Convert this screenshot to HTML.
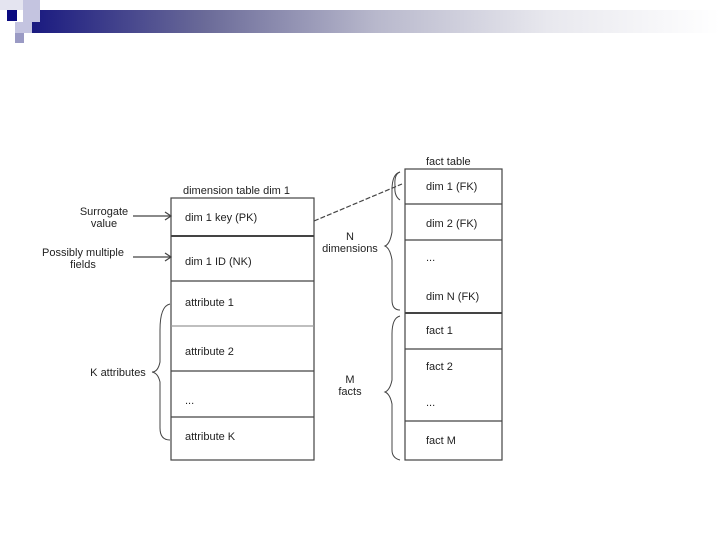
<!DOCTYPE html>
<html><head><style>
body{margin:0;width:720px;height:540px;background:#fff;position:relative;overflow:hidden;font-family:"Liberation Sans",sans-serif}
.a{position:absolute}
</style></head><body>
<div class="a" style="left:32px;top:10px;width:688px;height:23px;background:linear-gradient(to right,#1a1a80,#6a6a98 25%,#b8b8cc 50%,#e8e8ee 75%,#fff)"></div>
<div class="a" style="left:0;top:0;width:23px;height:10px;background:#e4e4f0"></div>
<div class="a" style="left:23px;top:0;width:17px;height:22px;background:#c4c4e0"></div>
<div class="a" style="left:7px;top:10px;width:10px;height:11px;background:#0a0a80"></div>
<div class="a" style="left:15px;top:22px;width:17px;height:11px;background:#c4c4e0"></div>
<div class="a" style="left:15px;top:33px;width:9px;height:10px;background:#9a9ac4"></div>
<svg class="a" style="left:0;top:0" width="720" height="540" font-family="Liberation Sans, sans-serif" font-size="11" fill="#222">
<g stroke="#444" fill="none" stroke-width="1.2">
<rect x="171" y="198" width="143" height="262"/>
<line x1="171" y1="236" x2="314" y2="236" stroke-width="2"/>
<line x1="171" y1="281" x2="314" y2="281"/>
<line x1="171" y1="326" x2="314" y2="326" stroke="#999"/>
<line x1="171" y1="371" x2="314" y2="371"/>
<line x1="171" y1="417" x2="314" y2="417"/>
<rect x="405" y="169" width="97" height="291"/>
<line x1="405" y1="204" x2="502" y2="204"/>
<line x1="405" y1="240" x2="502" y2="240"/>
<line x1="405" y1="313" x2="502" y2="313" stroke-width="2"/>
<line x1="405" y1="349" x2="502" y2="349"/>
<line x1="405" y1="421" x2="502" y2="421"/>
<line x1="133" y1="216" x2="170" y2="216"/><path d="M165 212 L171 216 L165 220"/>
<line x1="133" y1="257" x2="170" y2="257"/><path d="M165 253 L171 257 L165 261"/>
<line x1="314" y1="221" x2="402" y2="184" stroke-dasharray="5,2"/>
<path d="M400 172 Q394 174 395 186 Q394 196 400 200" stroke-width="1"/>
<path d="M170 304 Q160 306 160 330 L160 362 Q158 372 152 372 Q158 373 160 382 L160 428 Q160 440 170 440" stroke-width="1"/>
<path d="M400 172 Q392 174 392 190 L392 232 Q390 244 385 246 Q390 248 392 260 L392 300 Q392 310 400 310" stroke-width="1"/>
<path d="M400 316 Q392 318 392 334 L392 380 Q390 390 385 392 Q390 394 392 404 L392 450 Q392 458 400 460" stroke-width="1"/>
</g>
<text x="183" y="194">dimension table dim 1</text>
<text x="426" y="165">fact table</text>
<text x="104" y="215" text-anchor="middle">Surrogate</text>
<text x="104" y="227" text-anchor="middle">value</text>
<text x="83" y="256" text-anchor="middle">Possibly multiple</text>
<text x="83" y="268" text-anchor="middle">fields</text>
<text x="118" y="376" text-anchor="middle">K attributes</text>
<text x="350" y="240" text-anchor="middle">N</text>
<text x="350" y="252" text-anchor="middle">dimensions</text>
<text x="350" y="383" text-anchor="middle">M</text>
<text x="350" y="395" text-anchor="middle">facts</text>
<text x="185" y="221">dim 1 key (PK)</text>
<text x="185" y="265">dim 1 ID (NK)</text>
<text x="185" y="306">attribute 1</text>
<text x="185" y="355">attribute 2</text>
<text x="185" y="404">...</text>
<text x="185" y="440">attribute K</text>
<text x="426" y="190">dim 1 (FK)</text>
<text x="426" y="227">dim 2 (FK)</text>
<text x="426" y="261">...</text>
<text x="426" y="300">dim N (FK)</text>
<text x="426" y="334">fact 1</text>
<text x="426" y="370">fact 2</text>
<text x="426" y="406">...</text>
<text x="426" y="444">fact M</text>
</svg>
</body></html>
